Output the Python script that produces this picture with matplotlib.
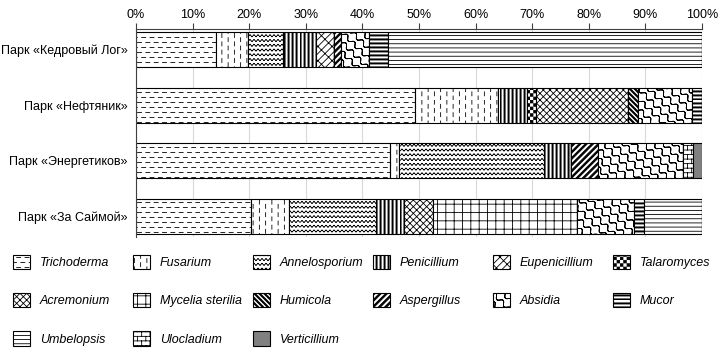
import warnings
import numpy as np
import matplotlib
matplotlib.use('Agg')
import matplotlib.pyplot as plt
import matplotlib.hatch as mhatch
from matplotlib.path import Path

warnings.filterwarnings('ignore', message='hatch must consist')

# Shares (%) of each genus, top bar first
parks = ['Парк «Кедровый Лог»', 'Парк «Нефтяник»',
         'Парк «Энергетиков»', 'Парк «За Саймой»']
genera = ['Trichoderma', 'Fusarium', 'Annelosporium', 'Penicillium',
          'Eupenicillium', 'Talaromyces', 'Acremonium', 'Mycelia sterilia',
          'Humicola', 'Aspergillus', 'Absidia', 'Mucor', 'Umbelopsis',
          'Ulocladium', 'Verticillium']
kedrovy_log = [14.1, 5.7, 6.1, 5.9, 3.2, 0, 0, 0, 0, 1.3, 4.8, 3.5, 55.4, 0, 0]
neftyanik = [49.3, 14.7, 0, 5.0, 0, 1.6, 16.3, 0, 1.8, 0, 9.5, 1.8, 0, 0, 0]
energetikov = [44.9, 1.6, 25.6, 4.7, 0, 0, 0, 0, 0, 4.8, 15.0, 0, 0, 1.8, 1.6]
za_saymoy = [20.3, 6.8, 15.3, 4.9, 0, 0, 5.1, 25.5, 0, 0, 10.1, 1.8, 10.2, 0, 0]
ticks = np.arange(0, 101, 10)


# --- extra hatch patterns (one tile = 1x1, i.e. 100 px at dpi 100) ---
def to_path(segs=(), polys=()):
    verts, codes = [], []
    for a, b in segs:
        verts += [a, b]
        codes += [Path.MOVETO, Path.LINETO]
    for p in polys:
        verts += list(p) + [p[0]]
        codes += [Path.MOVETO] + [Path.LINETO] * (len(p) - 1) + [Path.CLOSEPOLY]
    return Path(np.array(verts, float), codes)


def dashes_h():
    segs = []
    for i in range(20):
        y = (i + 0.5) / 20
        for j in range(12):
            x = j / 12 + 0.5 / 12 * (i % 2)
            segs.append(((x, y), (x + 0.04, y)))
    return to_path(segs)


def dashes_v():
    segs = []
    for i in range(16):
        x = (i + 0.5) / 16
        for j in range(12):
            y = j / 12 + 0.5 / 12 * (i % 2)
            segs.append(((x, y), (x, y + 0.04)))
    return to_path(segs)


def zigzag():
    segs = []
    for i in range(21):
        y = (i + 0.3) / 21
        for j in range(25):
            x = j * 0.04
            segs.append(((x, y), (x + 0.02, y + 0.018)))
            segs.append(((x + 0.02, y + 0.018), (x + 0.04, y)))
    return to_path(segs)


def thick_v(n=25, w=0.011):
    polys = [[(k / n, -0.1), (k / n + w, -0.1), (k / n + w, 1.1), (k / n, 1.1)]
             for k in range(n)]
    return to_path(polys=polys)


def thick_h(n=25, w=0.011):
    polys = [[(-0.1, k / n), (1.1, k / n), (1.1, k / n + w), (-0.1, k / n + w)]
             for k in range(n)]
    return to_path(polys=polys)


def stripes_ne(n=16, w=0.022):
    polys = []
    for k in range(-n, n + 1):
        c = k / n
        polys.append([(-0.5, c - 0.5), (1.5, c + 1.5),
                      (1.5, c + 1.5 + w), (-0.5, c - 0.5 + w)])
    return to_path(polys=polys)


def stripes_se(n=20, w=0.018):
    polys = []
    for k in range(0, 2 * n + 1):
        c = k / n
        polys.append([(-0.5, c + 0.5), (1.5, c - 1.5),
                      (1.5, c - 1.5 + w), (-0.5, c + 0.5 + w)])
    return to_path(polys=polys)


def checker(n=30):
    s = 1 / n - 0.008
    polys = []
    for i in range(n):
        for j in range(n):
            if (i + j) % 2 == 0:
                x, y = i / n + 0.004, j / n + 0.004
                polys.append([(x, y), (x + s, y), (x + s, y + s), (x, y + s)])
    return to_path(polys=polys)


def diag_bricks(n=14, m=14):
    segs = []
    d = 1 / n
    for k in range(-n - 1, n + 1):
        c = k / n
        segs.append(((-0.5, c - 0.5), (1.5, c + 1.5)))
        for j in range(-m, 2 * m + 1):
            t = j / m + (k % 2) * 0.5 / m
            segs.append(((t, t + c), (t - d / 2, t + c + d / 2)))
    return to_path(segs)


def waves(n=10, m=7, amp=0.02):
    segs = []
    u = np.array([1, -1]) / np.sqrt(2)
    v = np.array([1, 1]) / np.sqrt(2)
    lam = 1 / (np.sqrt(2) * m)
    s = np.linspace(-1, 1, 400)
    for k in range(0, 2 * n + 1):
        c = k / n
        phase = np.pi * (k % 2)
        pts = (np.array([c / 2, c / 2])[None, :] + s[:, None] * u
               + (amp * np.sin(2 * np.pi * s / lam + phase))[:, None] * v)
        segs += list(zip(pts[:-1], pts[1:]))
    return to_path(segs)


def bricks(rows=22, cols=12):
    segs = []
    for i in range(rows):
        y0, y1 = i / rows, (i + 1) / rows
        segs.append(((-0.1, y0), (1.1, y0)))
        for j in range(cols + 1):
            x = j / cols + (i % 2) * 0.5 / cols
            segs.append(((x, y0), (x, y1)))
    return to_path(segs)


def register(letter, build):
    class Custom(mhatch.HatchPatternBase):
        def __init__(self, hatch, density):
            self.path = build() if letter in hatch else None
            self.num_vertices = 0 if self.path is None else len(self.path.vertices)

        def set_vertices_and_codes(self, vertices, codes):
            vertices[:] = self.path.vertices
            codes[:] = self.path.codes
    mhatch._hatch_types.append(Custom)


register('a', dashes_h)
register('b', dashes_v)
register('c', zigzag)
register('d', thick_v)
register('e', diag_bricks)
register('f', checker)
register('h', stripes_se)
register('i', stripes_ne)
register('j', waves)
register('k', thick_h)
register('l', bricks)

hatches = ['a', 'b', 'c', 'd', 'e', 'f', 'xxxxx', '++', 'h', 'i', 'j', 'k',
           '----', 'l', None]
faces = ['white'] * 14 + ['#808080']

plt.rcParams['font.family'] = ['Liberation Sans', 'DejaVu Sans']
plt.rcParams['hatch.linewidth'] = 0.6

shares = np.array([kedrovy_log, neftyanik, energetikov, za_saymoy])
y = np.arange(len(parks))

fig = plt.figure(figsize=(7.18, 3.5), dpi=100)
ax = fig.add_axes([136 / 718, 1 - 237 / 350, 566 / 718, 208 / 350])

handles = []
left = np.zeros(len(parks))
for g, name in enumerate(genera):
    bars = ax.barh(y, shares[:, g], left=left, height=0.63, color=faces[g],
                   edgecolor='black', linewidth=0.8, hatch=hatches[g],
                   label=name, zorder=2)
    handles.append(bars)
    left += shares[:, g]

ax.set_xlim(0, 100)
ax.set_ylim(3.37, -0.37)
ax.set_yticks(y)
ax.set_yticklabels(parks, fontsize=9)
ax.set_xticks(ticks)
ax.set_xticklabels([f'{t}%' for t in ticks], fontsize=9)
ax.xaxis.tick_top()
ax.tick_params(axis='x', length=4, width=0.8, color='#404040', pad=2)
ax.tick_params(axis='y', length=0, pad=6)
ax.grid(axis='x', color='#d9d9d9', linewidth=0.8, zorder=0)
ax.set_axisbelow(True)
for side in ['right', 'bottom']:
    ax.spines[side].set_visible(False)
for side in ['left', 'top']:
    ax.spines[side].set_color('#404040')
    ax.spines[side].set_linewidth(0.8)

# legend laid out in 6 evenly spaced columns, rows filled left to right
for col in range(6):
    idx = list(range(col, len(genera), 6))
    fig.legend([handles[i] for i in idx], [genera[i] for i in idx],
               loc='upper left',
               bbox_to_anchor=((13 + 120 * col) / 718, 1 - 255 / 350),
               frameon=False, prop={'size': 9, 'style': 'italic'},
               handlelength=1.36, handleheight=1.36, handletextpad=0.8,
               labelspacing=1.92, borderpad=0, borderaxespad=0)

fig.savefig('out.png', dpi=100)
